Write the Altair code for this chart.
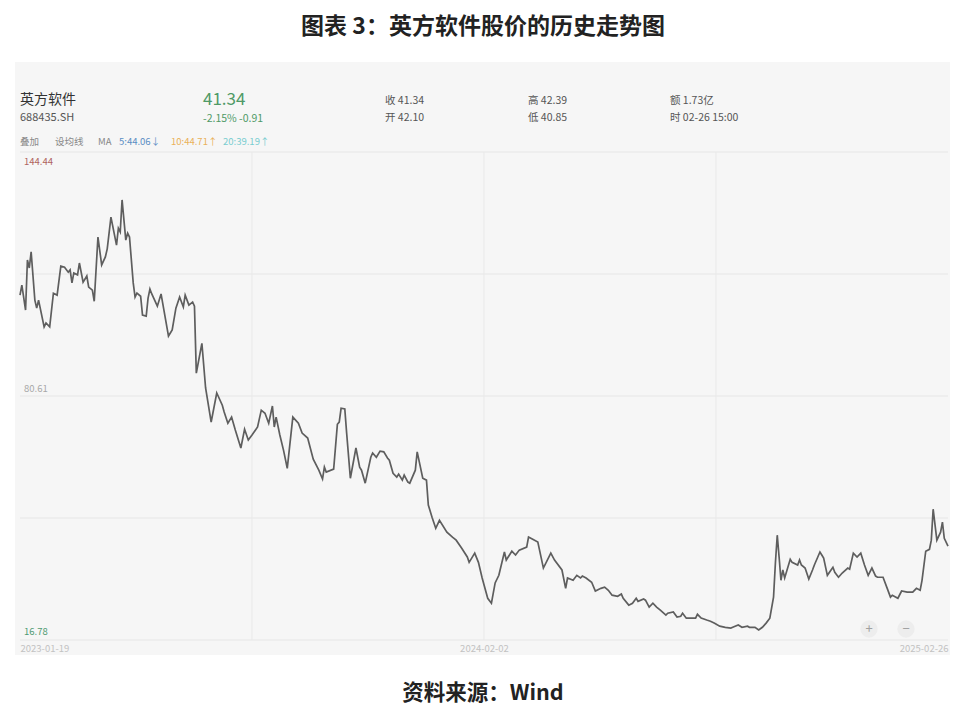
import altair as alt
import pandas as pd

# ---- data (trading-day index, closing price) ----
days = [0, 1, 3, 4, 5, 6, 8, 9, 10, 13, 14, 16, 18, 20, 22, 24, 26, 27, 28, 29,
        31, 32, 34, 36, 37, 39, 40, 42, 44, 46, 47, 49, 52, 53, 54, 55, 57, 58, 59, 61,
        62, 63, 65, 66, 68, 69, 70, 71, 74, 76, 80, 82, 84, 86, 88, 89, 91, 93, 94, 95,
        98, 100, 103, 106, 109, 110, 112, 114, 116, 119, 121, 123, 125, 128, 130, 132, 134, 136, 137, 138,
        140, 142, 144, 147, 150, 152, 155, 158, 161, 163, 164, 165, 169, 171, 172, 173, 175, 176, 178, 181,
        183, 184, 186, 189, 190, 192, 194, 196, 198, 199, 201, 203, 204, 206, 207, 209, 210, 213, 214, 217,
        219, 220, 222, 224, 226, 230, 233, 235, 238, 241, 242, 245, 247, 249, 252, 254, 256, 258, 261, 262,
        265, 267, 269, 273, 274, 276, 279, 282, 286, 288, 292, 294, 295, 298, 300, 302, 303, 305, 308, 310,
        313, 315, 317, 319, 322, 324, 325, 328, 330, 332, 333, 336, 337, 339, 341, 343, 345, 348, 349, 352,
        354, 356, 357, 359, 361, 364, 365, 367, 370, 372, 374, 377, 380, 383, 384, 387, 389, 392, 393, 396,
        398, 400, 402, 404, 406, 407, 408, 409, 410, 411, 412, 415, 416, 419, 420, 421, 423, 425, 427, 428,
        431, 432, 433, 435, 438, 439, 441, 443, 446, 447, 449, 451, 453, 455, 457, 459, 461, 462, 465, 467,
        469, 470, 473, 475, 478, 481, 483, 485, 486, 488, 490, 491, 492, 494, 496, 497, 498, 500]

prices = [107.0, 109.6, 103.1, 116.2, 114.1, 118.3, 105.7, 103.6, 105.7, 98.7, 99.7, 98.7, 107.5, 107.0, 114.6, 114.3, 113.0, 113.6, 110.2, 112.8,
          112.3, 115.4, 110.4, 112.0, 109.1, 108.3, 105.4, 122.2, 114.9, 117.0, 119.1, 127.4, 120.1, 124.5, 123.5, 131.9, 121.4, 123.2, 122.2, 110.2,
          106.5, 107.5, 106.7, 101.8, 101.5, 106.2, 108.6, 107.3, 104.1, 107.3, 96.3, 97.9, 103.6, 106.5, 103.9, 107.0, 104.4, 105.2, 104.1, 86.6,
          94.4, 82.7, 73.8, 81.4, 78.2, 76.4, 73.5, 75.1, 71.7, 67.0, 71.9, 69.1, 70.4, 72.5, 76.9, 76.1, 73.5, 78.0, 72.5, 75.1,
          70.4, 66.4, 61.7, 75.1, 73.5, 70.9, 69.6, 64.1, 61.2, 58.9, 62.0, 60.7, 61.5, 73.2, 73.8, 77.4, 77.2, 70.9, 59.1, 67.0,
          62.0, 61.2, 57.8, 64.6, 65.7, 64.6, 66.2, 66.0, 64.4, 63.8, 60.4, 59.4, 60.2, 58.6, 59.9, 58.1, 57.8, 61.2, 66.0, 59.1,
          58.6, 52.1, 48.9, 46.0, 48.1, 45.0, 43.7, 42.9, 40.8, 38.5, 37.1, 39.5, 37.1, 33.0, 27.7, 26.4, 31.7, 33.7, 39.8, 37.7,
          40.0, 39.0, 40.3, 41.1, 43.7, 43.2, 42.4, 35.6, 39.5, 37.7, 35.1, 30.3, 33.0, 32.4, 33.7, 33.0, 33.5, 33.0, 31.9, 29.6,
          30.3, 30.6, 29.8, 28.5, 28.2, 28.8, 27.7, 25.9, 26.4, 27.7, 26.9, 27.5, 27.2, 25.4, 26.4, 25.4, 24.6, 23.3, 23.8, 24.1,
          22.8, 23.0, 23.8, 22.5, 22.5, 22.5, 23.5, 22.5, 22.0, 21.7, 21.2, 20.4, 20.1, 19.9, 20.1, 20.7, 20.1, 20.4, 20.1, 20.1,
          19.4, 20.1, 21.2, 22.5, 28.0, 36.9, 44.2, 38.5, 32.4, 35.1, 33.0, 37.9, 37.1, 36.4, 37.7, 36.4, 35.6, 32.7, 35.1, 36.4,
          39.8, 39.0, 38.2, 33.7, 35.8, 34.5, 33.2, 34.3, 35.6, 35.3, 39.5, 38.5, 39.5, 36.4, 33.7, 35.6, 33.5, 33.2, 33.2, 30.6,
          28.0, 28.5, 27.7, 29.6, 29.3, 29.3, 30.3, 29.8, 32.4, 40.0, 40.5, 42.9, 51.0, 42.9, 45.0, 47.6, 43.4, 41.34]

y_ticks = [16.78, 48.695, 80.61, 112.525, 144.44]
x_grid = [125, 250, 375]
x_tick_days = [0, 250, 500]
x_tick_labels = ["2023-01-19", "2024-02-02", "2025-02-26"]

FONT = "Noto Sans CJK SC"
W, H = 928, 488
X_DOMAIN = [0, 500]
Y_DOMAIN = [16.78, 144.44]

df = pd.DataFrame({"day": days, "price": prices})
xs = alt.Scale(domain=X_DOMAIN, nice=False, zero=False)
ys = alt.Scale(domain=Y_DOMAIN, nice=False, zero=False)
one = pd.DataFrame({"k": [0]})

label_expr = " : ".join(
    f"datum.value == {d} ? '{t}'" for d, t in zip(x_tick_days, x_tick_labels)
) + " : ''"

x_axis = alt.Axis(
    values=x_tick_days,
    labelExpr=label_expr,
    labelFlush=True, grid=False, domain=False, ticks=False,
    labelColor="#c2c2c2", labelFontSize=9.5, labelFont=FONT, labelPadding=3,
    title=None, zindex=2,
)


def label(text, x, y, size=11, color="#555555", weight="normal", align="left", baseline="middle"):
    return alt.Chart(one).mark_text(
        text=text, font=FONT, fontSize=size, color=color, fontWeight=weight,
        align=align, baseline=baseline,
    ).encode(x=alt.value(x), y=alt.value(y))


# page (X, Y) -> plot coords (X-20, Y-152)
panel = alt.Chart(one).mark_rect(color="#f6f6f6").encode(
    x=alt.value(-5), x2=alt.value(930), y=alt.value(-90), y2=alt.value(503)
)

hgrid = alt.Chart(pd.DataFrame({"v": y_ticks})).mark_rule(color="#e6e6e6", strokeWidth=1).encode(
    y=alt.Y("v:Q", scale=ys, axis=None)
)
vgrid = alt.Chart(pd.DataFrame({"day": x_grid})).mark_rule(color="#e9e9e9", strokeWidth=1).encode(
    x=alt.X("day:Q", scale=xs, axis=x_axis)
)

line = alt.Chart(df).mark_line(color="#5e5e5e", strokeWidth=1.7, interpolate="linear").encode(
    x=alt.X("day:Q", scale=xs, axis=x_axis),
    y=alt.Y("price:Q", scale=ys, axis=None),
)

ylab_top = alt.Chart(pd.DataFrame({"v": [y_ticks[4]], "t": ["144.44"]})).mark_text(
    font=FONT, fontSize=9.5, color="#b06460", align="left", baseline="top", dx=4, dy=5
).encode(x=alt.value(0), y=alt.Y("v:Q", scale=ys), text="t:N")
ylab_mid = alt.Chart(pd.DataFrame({"v": [y_ticks[2]], "t": ["80.61"]})).mark_text(
    font=FONT, fontSize=9.5, color="#a8a8a8", align="left", baseline="bottom", dx=4, dy=-2
).encode(x=alt.value(0), y=alt.Y("v:Q", scale=ys), text="t:N")
ylab_bot = alt.Chart(pd.DataFrame({"v": [y_ticks[0]], "t": ["16.78"]})).mark_text(
    font=FONT, fontSize=9.5, color="#4f9a72", align="left", baseline="bottom", dx=4, dy=-3
).encode(x=alt.value(0), y=alt.Y("v:Q", scale=ys), text="t:N")

green = "#4f9a66"
texts = [
    label("图表 3：英方软件股价的历史走势图", 463, -125, size=23, color="#222222", weight="bold", align="center"),
    label("资料来源：Wind", 463, 542, size=21.5, color="#222222", weight="bold", align="center"),
    label("英方软件", 0, -52, size=14, color="#333333"),
    label("688435.SH", 0, -34, size=11, color="#555555"),
    label("41.34", 183, -52, size=17, color=green),
    label("-2.15%   -0.91", 183, -33, size=10.5, color=green),
    label("收  41.34", 365, -51, size=10.5, color="#555555"),
    label("开  42.10", 365, -34, size=10.5, color="#555555"),
    label("高  42.39", 508, -51, size=10.5, color="#555555"),
    label("低  40.85", 508, -34, size=10.5, color="#555555"),
    label("额  1.73亿", 650, -51, size=10.5, color="#555555"),
    label("时  02-26 15:00", 650, -34, size=10.5, color="#555555"),
    label("叠加", 0, -10, size=9.5, color="#888888"),
    label("设均线", 35, -10, size=9.5, color="#888888"),
    label("MA", 78, -10, size=9.5, color="#888888"),
    label("5:44.06↓", 99, -10, size=9.5, color="#5b8ec4"),
    label("10:44.71↑", 151, -10, size=9.5, color="#eab15a"),
    label("20:39.19↑", 203, -10, size=9.5, color="#79cdd0"),
]

buttons = [
    alt.Chart(one).mark_circle(size=300, color="#ededed", opacity=1).encode(x=alt.value(849), y=alt.value(477)),
    alt.Chart(one).mark_circle(size=300, color="#ededed", opacity=1).encode(x=alt.value(886), y=alt.value(477)),
    label("+", 849, 477, size=13, color="#a0a0a0", align="center"),
    label("−", 886, 477, size=13, color="#a0a0a0", align="center"),
]

chart = alt.layer(
    panel, hgrid, vgrid, line, ylab_top, ylab_mid, ylab_bot, *buttons, *texts
).properties(
    width=W, height=H,
    padding={"left": 12, "top": 144, "right": 4, "bottom": 68},
    autosize="none",
    background="#ffffff",
).configure_view(stroke=None)

chart.save("out.html", embed_options={"renderer": "svg", "actions": False})
